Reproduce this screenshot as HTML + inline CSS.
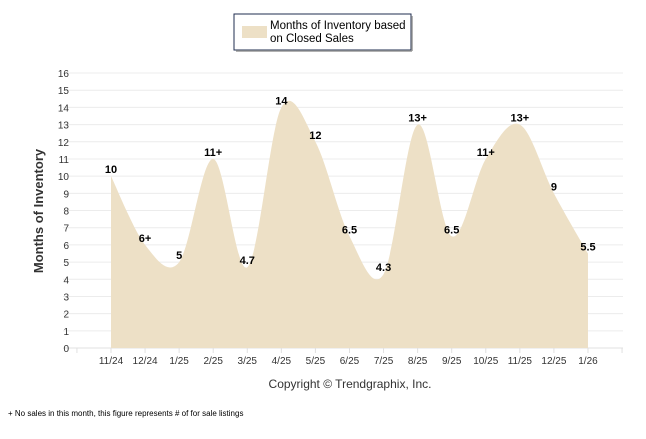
<!DOCTYPE html>
<html><head><meta charset="utf-8"><style>
body{margin:0;background:#fff;width:646px;height:434px;overflow:hidden;font-family:"Liberation Sans",sans-serif;}
</style></head><body>
<svg width="646" height="434" font-family="Liberation Sans, sans-serif">
<rect x="234" y="14" width="177" height="36" fill="#fff" stroke="#1f2d4f" stroke-width="1"/>
<line x1="412" y1="16" x2="412" y2="51" stroke="#999" stroke-width="1.5"/>
<line x1="236" y1="51" x2="412" y2="51" stroke="#999" stroke-width="1.5"/>
<rect x="242" y="26" width="25" height="12" fill="#ede0c6"/>
<text x="270" y="29" font-size="11.5" fill="#000">Months of Inventory based</text>
<text x="270" y="42" font-size="11.5" fill="#000">on Closed Sales</text>
<g id="grid"></g>
<path id="area" fill="#ede0c6"/>
<g id="labels"></g>
<text transform="translate(43,211) rotate(-90)" text-anchor="middle" font-size="13" font-weight="bold" fill="#333">Months of Inventory</text>
<text x="350" y="388" text-anchor="middle" font-size="12" fill="#333">Copyright © Trendgraphix, Inc.</text>
<text x="8" y="416" font-size="8" fill="#000">+  No sales in this month, this figure represents # of for sale listings</text>
</svg>
<script>
const categories=["11/24","12/24","1/25","2/25","3/25","4/25","5/25","6/25","7/25","8/25","9/25","10/25","11/25","12/25","1/26"];
const values=[10,6,5,11,4.7,14,12,6.5,4.3,13,6.5,11,13,9,5.5];
const valueLabels=["10","6+","5","11+","4.7","14","12","6.5","4.3","13+","6.5","11+","13+","9","5.5"];
const yTicks=[0,1,2,3,4,5,6,7,8,9,10,11,12,13,14,15,16];
const NS="http://www.w3.org/2000/svg";
const x0=111,dx=34.07,yBase=348,yTop=73;
const X=i=>x0+i*dx, Y=v=>yBase-(v/16)*(yBase-yTop);
const grid=document.getElementById('grid');
function mk(t,a,p){const e=document.createElementNS(NS,t);for(const k in a)e.setAttribute(k,a[k]);p.appendChild(e);return e;}
yTicks.forEach(v=>{
 const l=mk('line',{x1:63,x2:623,y1:Y(v),y2:Y(v),stroke:v===0?'#e0e0e0':'#ececec'},grid);
 
 
 const t=mk('text',{x:69,y:Y(v)+4,'text-anchor':'end','font-size':'10',fill:'#333'},grid);
 t.textContent=v;
 
 
});
for(let i=-1;i<=categories.length;i++){mk('line',{x1:X(i),x2:X(i),y1:yBase,y2:yBase+5,stroke:'#e0e0e0'},grid);}
categories.forEach((c,i)=>{
 const t=mk('text',{x:X(i),y:364,'text-anchor':'middle','font-size':'10',fill:'#333'},grid);
 t.textContent=c;
 
 
});
const pts=values.map((v,i)=>[X(i),Y(v)]);
let d=`M${pts[0][0]},${yBase}L${pts[0][0]},${pts[0][1]}`;
for(let i=0;i<pts.length-1;i++){
 const p0=pts[Math.max(i-1,0)],p1=pts[i],p2=pts[i+1],p3=pts[Math.min(i+2,pts.length-1)];
 const c1=[p1[0]+(p2[0]-p0[0])/6,p1[1]+(p2[1]-p0[1])/6];
 const c2=[p2[0]-(p3[0]-p1[0])/6,p2[1]-(p3[1]-p1[1])/6];
 d+=`C${c1[0]},${c1[1]} ${c2[0]},${c2[1]} ${p2[0]},${p2[1]}`;
}
d+=`L${pts[pts.length-1][0]},${yBase}Z`;
document.getElementById('area').setAttribute('d',d);
const lg=document.getElementById('labels');
values.forEach((v,i)=>{
 const t=mk('text',{x:X(i),y:Y(v)-3,'text-anchor':'middle','font-size':'11','font-weight':'bold',fill:'#000'},lg);
 t.textContent=valueLabels[i];
 
 
});
</script>
</body></html>
